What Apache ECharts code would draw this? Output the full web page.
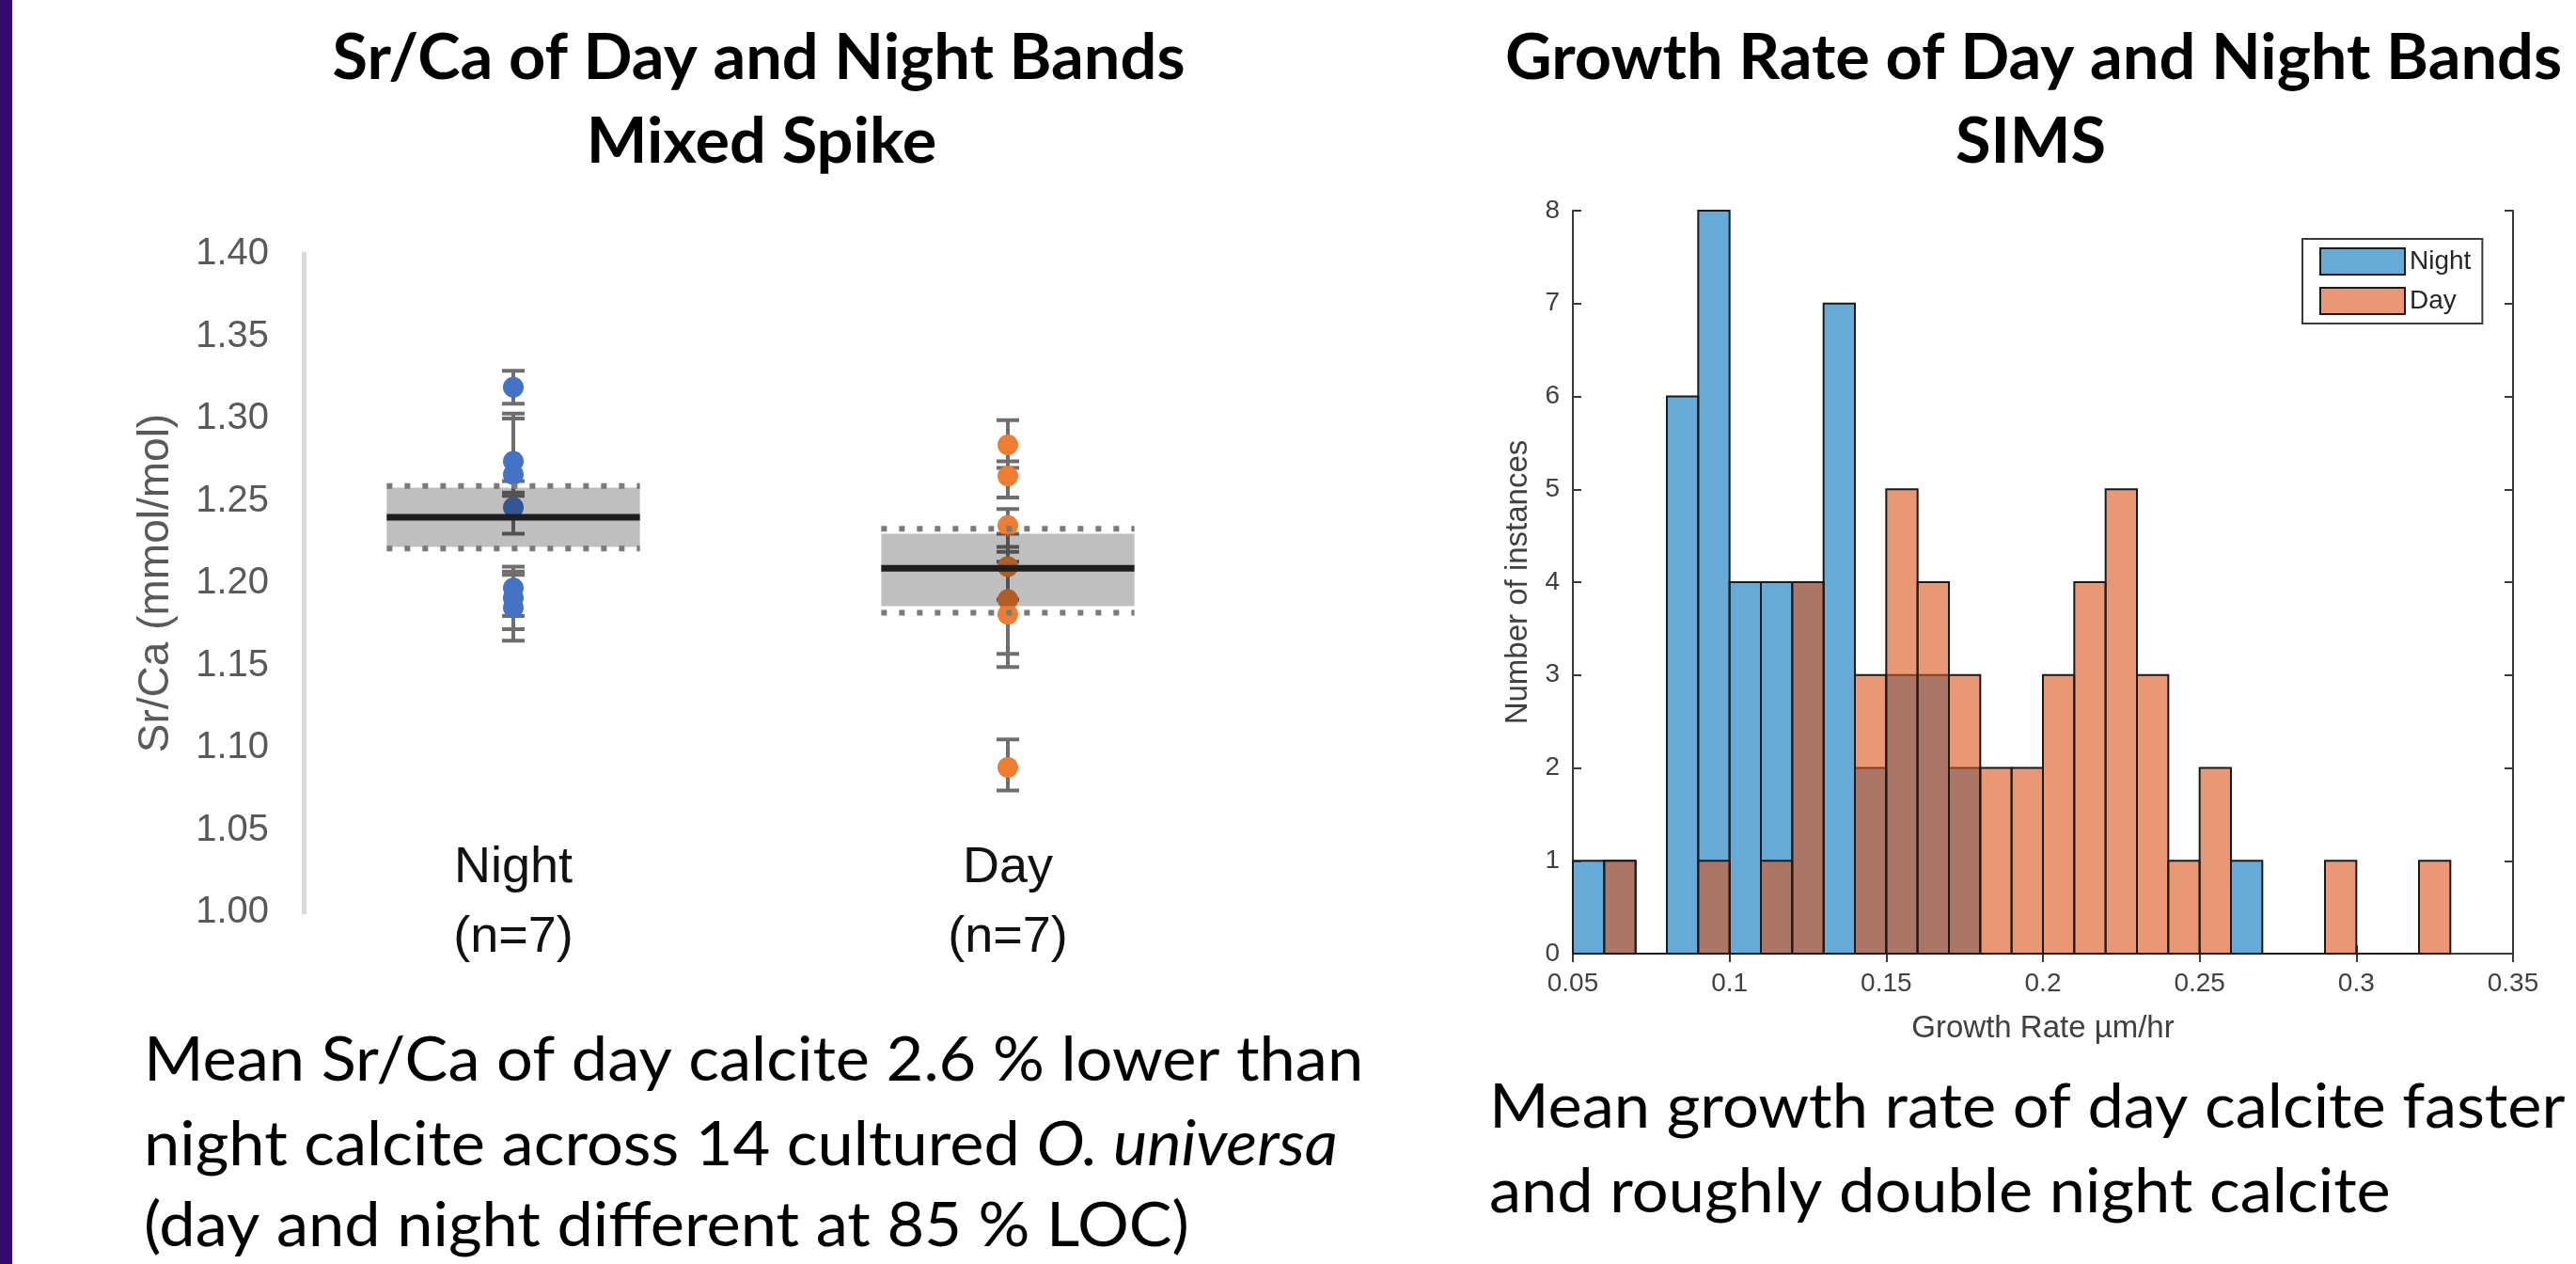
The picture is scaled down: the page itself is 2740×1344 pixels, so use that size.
<!DOCTYPE html>
<html>
<head>
<meta charset="utf-8">
<script src="https://cdn.jsdelivr.net/npm/echarts/dist/echarts.min.js"></script>
<style>
html,body{margin:0;padding:0;background:#fff;}
#c{width:2740px;height:1344px;}
</style>
</head>
<body>
<div id="c"></div>
<script>
// ---------------- Left panel: Sr/Ca of day and night bands ----------------
const groups = ['Night', 'Day'];
const groupN = [7, 7];
const nightValues = [1.319, 1.274, 1.266, 1.246, 1.197, 1.191, 1.185];
const nightLow    = [1.309, 1.255, 1.253, 1.230, 1.180, 1.172, 1.165];
const nightHigh   = [1.329, 1.303, 1.300, 1.262, 1.210, 1.207, 1.205];
const dayValues   = [1.284, 1.265, 1.235, 1.210, 1.190, 1.181, 1.088];
const dayLow      = [1.270, 1.252, 1.219, 1.190, 1.157, 1.149, 1.074];
const dayHigh     = [1.299, 1.274, 1.245, 1.230, 1.222, 1.213, 1.105];
const groupMean   = [1.240, 1.209];
const boxLow      = [1.222, 1.186];
const boxHigh     = [1.258, 1.230];
const limLow      = [1.221, 1.182];
const limHigh     = [1.259, 1.233];
const srMin = 1.00, srMax = 1.40, srStep = 0.05;

// ---------------- Right panel: growth rate histogram ----------------
const binLo = [0.05,0.06,0.07,0.08,0.09,0.10,0.11,0.12,0.13,0.14,0.15,0.16,0.17,0.18,0.19,0.20,0.21,0.22,0.23,0.24,0.25,0.26,0.27,0.28,0.29,0.30,0.31,0.32];
const binHi = [0.06,0.07,0.08,0.09,0.10,0.11,0.12,0.13,0.14,0.15,0.16,0.17,0.18,0.19,0.20,0.21,0.22,0.23,0.24,0.25,0.26,0.27,0.28,0.29,0.30,0.31,0.32,0.33];
const nightCounts = [1,1,0,6,8,4,4,4,7,2,3,3,2,0,0,0,0,0,0,0,0,1,0,0,0,0,0,0];
const dayCounts   = [0,1,0,0,1,0,1,4,0,3,5,4,3,2,2,3,4,5,3,1,2,0,0,0,1,0,0,1];
const rateMin = 0.05, rateMax = 0.35, rateStep = 0.05;
const countMin = 0, countMax = 8, countStep = 1;

// ---------------- Texts ----------------
const leftTitle  = ['Sr/Ca of Day and Night Bands', 'Mixed Spike'];
const rightTitle = ['Growth Rate of Day and Night Bands', 'SIMS'];
const leftNote   = ['Mean Sr/Ca of day calcite 2.6 % lower than',
                    'night calcite across 14 cultured ', 'O. universa',
                    '(day and night different at 85 % LOC)'];
const rightNote  = ['Mean growth rate of day calcite faster', 'and roughly double night calcite'];

// ---------------- helpers ----------------
const mctx = document.createElement('canvas').getContext('2d');
function measure(text, font) { mctx.font = font; return mctx.measureText(text).width; }
const TITLE_SIZE = 67, NOTE_SIZE = 65;
const titleScale = 907 / measure(leftTitle[0], 'bold ' + TITLE_SIZE + 'px Lato');
const noteScale = (1292 / measure(leftNote[0], NOTE_SIZE + 'px Lato') +
                   1149 / measure(rightNote[0], NOTE_SIZE + 'px Lato')) / 2;

function textEl(str, x, y, size, weight, align, scale, rich) {
  const st = {text: str, x: 0, y: 0, fontFamily: 'Lato', fontSize: size, fontWeight: weight,
              fill: '#000', align: align, textAlign: align, verticalAlign: 'middle', textVerticalAlign: 'middle'};
  if (rich) st.rich = rich;
  return {type: 'text', x: x, y: y, scaleX: scale, scaleY: 1, originX: 0, originY: 0, silent: true, style: st};
}

function histData(counts) {
  let first = counts.findIndex(c => c > 0);
  let last = counts.length - 1 - counts.slice().reverse().findIndex(c => c > 0);
  const out = [];
  for (let i = first; i <= last; i++) out.push([binLo[i], binHi[i], counts[i]]);
  return out;
}

function histRender(color) {
  return function (params, api) {
    const lo = api.value(0), hi = api.value(1), c = api.value(2);
    const pTop = api.coord([lo, c]);
    const pBot = api.coord([hi, 0]);
    if (c === 0) {
      return {type: 'line', shape: {x1: pTop[0], y1: pBot[1], x2: pBot[0], y2: pBot[1]},
              style: {stroke: '#1a1a1a', lineWidth: 2}};
    }
    return {type: 'rect', shape: {x: pTop[0], y: pTop[1], width: pBot[0] - pTop[0], height: pBot[1] - pTop[1]},
            style: {fill: color, stroke: '#1a1a1a', lineWidth: 2}};
  };
}

function errRender(params, api) {
  const c = api.value(0);
  const pLo = api.coord([c, api.value(1)]);
  const pHi = api.coord([c, api.value(2)]);
  const hw = 12;
  const st = {stroke: '#6e6e6e', lineWidth: 4};
  return {type: 'group', children: [
    {type: 'line', shape: {x1: pLo[0], y1: pLo[1], x2: pHi[0], y2: pHi[1]}, style: st},
    {type: 'line', shape: {x1: pLo[0] - hw, y1: pLo[1], x2: pLo[0] + hw, y2: pLo[1]}, style: st},
    {type: 'line', shape: {x1: pHi[0] - hw, y1: pHi[1], x2: pHi[0] + hw, y2: pHi[1]}, style: st}
  ]};
}

function boxRender(params, api) {
  const c = api.value(0);
  const bw = api.size([1, 0])[0] * 0.512;
  const xc = api.coord([c, srMin])[0];
  const x0 = xc - bw / 2;
  const yLo = api.coord([c, api.value(1)])[1];
  const yHi = api.coord([c, api.value(2)])[1];
  const yM = api.coord([c, api.value(3)])[1];
  const yL1 = api.coord([c, api.value(4)])[1];
  const yL2 = api.coord([c, api.value(5)])[1];
  const dot = {stroke: '#7a7a7a', lineWidth: 6, lineDash: [6, 13]};
  return {type: 'group', children: [
    {type: 'rect', shape: {x: x0, y: yHi, width: bw, height: yLo - yHi}, style: {fill: 'rgba(0,0,0,0.25)'}},
    {type: 'line', shape: {x1: x0, y1: yL1, x2: x0 + bw, y2: yL1}, style: dot},
    {type: 'line', shape: {x1: x0, y1: yL2, x2: x0 + bw, y2: yL2}, style: dot},
    {type: 'line', shape: {x1: x0, y1: yM, x2: x0 + bw, y2: yM}, style: {stroke: '#1e1e1e', lineWidth: 7}}
  ]};
}

const errData = nightLow.map((lo, i) => [0, lo, nightHigh[i]])
  .concat(dayLow.map((lo, i) => [1, lo, dayHigh[i]]));
const boxData = groups.map((g, i) => [i, boxLow[i], boxHigh[i], groupMean[i], limLow[i], limHigh[i]]);

const axisFont = 'Liberation Sans';
const mAxisColor = '#3a3a3a';
const mLabelColor = '#404040';

const chart = echarts.init(document.getElementById('c'), null, {renderer: 'canvas', width: 2740, height: 1344});

const option = {
  animation: false,
  backgroundColor: '#ffffff',
  grid: [
    {left: 283, top: 270, width: 1052, height: 700, containLabel: false, outerBoundsMode: 'none'},
    {left: 1673, top: 224, width: 1000, height: 790, containLabel: false, outerBoundsMode: 'none'}
  ],
  legend: {
    data: ['Night', 'Day'], selectedMode: false, orient: 'vertical',
    left: 2449, top: 254, itemWidth: 90, itemHeight: 28, itemGap: 12,
    padding: [9, 12, 9, 18], borderColor: '#3a3a3a', borderWidth: 2, backgroundColor: '#fff',
    icon: 'rect',
    itemStyle: {borderColor: '#1a1a1a', borderWidth: 2},
    textStyle: {fontSize: 28, color: '#262626', fontFamily: axisFont, padding: [0, 0, 0, 0]}
  },
  xAxis: [
    {type: 'category', gridIndex: 0, data: groups, offset: -84,
     axisLine: {show: false}, axisTick: {show: false}, splitLine: {show: false},
     axisLabel: {formatter: (v, i) => v + '\n(n=' + groupN[i] + ')', fontSize: 54, lineHeight: 74,
                 color: '#111', fontFamily: axisFont, margin: 0}},
    {type: 'value', gridIndex: 1, min: rateMin, max: rateMax, interval: rateStep, position: 'bottom',
     axisLine: {show: true, lineStyle: {color: mAxisColor, width: 2}},
     axisTick: {show: true, inside: true, length: 9, lineStyle: {color: mAxisColor, width: 2}},
     splitLine: {show: false},
     axisLabel: {fontSize: 28, color: mLabelColor, fontFamily: axisFont, margin: 18},
     name: 'Growth Rate µm/hr', nameLocation: 'middle', nameGap: 63,
     nameTextStyle: {fontSize: 33, color: mLabelColor, fontFamily: axisFont}},
    {type: 'value', gridIndex: 1, min: rateMin, max: rateMax, interval: rateStep, position: 'top',
     axisLine: {show: true, lineStyle: {color: mAxisColor, width: 2}},
     axisTick: {show: true, inside: true, length: 9, lineStyle: {color: mAxisColor, width: 2}},
     splitLine: {show: false}, axisLabel: {show: false}}
  ],
  yAxis: [
    {type: 'value', gridIndex: 0, min: srMin, max: srMax, interval: srStep, offset: -40,
     axisLine: {show: true, lineStyle: {color: '#d9d9d9', width: 5}},
     axisTick: {show: false}, splitLine: {show: false},
     axisLabel: {formatter: v => v.toFixed(2), fontSize: 40, color: '#595959', fontFamily: axisFont, margin: 37},
     name: 'Sr/Ca (mmol/mol)', nameLocation: 'middle', nameGap: 134,
     nameTextStyle: {fontSize: 46, color: '#595959', fontFamily: axisFont}},
    {type: 'value', gridIndex: 1, min: countMin, max: countMax, interval: countStep, position: 'left',
     axisLine: {show: true, lineStyle: {color: mAxisColor, width: 2}},
     axisTick: {show: true, inside: true, length: 9, lineStyle: {color: mAxisColor, width: 2}},
     splitLine: {show: false},
     axisLabel: {fontSize: 28, color: mLabelColor, fontFamily: axisFont, margin: 14},
     name: 'Number of instances', nameLocation: 'middle', nameGap: 42,
     nameTextStyle: {fontSize: 33, color: mLabelColor, fontFamily: axisFont}},
    {type: 'value', gridIndex: 1, min: countMin, max: countMax, interval: countStep, position: 'right',
     axisLine: {show: true, lineStyle: {color: mAxisColor, width: 2}},
     axisTick: {show: true, inside: true, length: 9, lineStyle: {color: mAxisColor, width: 2}},
     splitLine: {show: false}, axisLabel: {show: false}}
  ],
  series: [
    {type: 'custom', name: 'err', xAxisIndex: 0, yAxisIndex: 0, z: 2, clip: false,
     renderItem: errRender, data: errData, encode: {x: 0, y: [1, 2]}},
    {type: 'scatter', name: 'NightPts', xAxisIndex: 0, yAxisIndex: 0, z: 3, symbolSize: 22,
     itemStyle: {color: '#4472C4', opacity: 1}, data: nightValues.map(v => [0, v])},
    {type: 'scatter', name: 'DayPts', xAxisIndex: 0, yAxisIndex: 0, z: 3, symbolSize: 22,
     itemStyle: {color: '#ED7D31', opacity: 1}, data: dayValues.map(v => [1, v])},
    {type: 'custom', name: 'box', xAxisIndex: 0, yAxisIndex: 0, z: 4, clip: false,
     renderItem: boxRender, data: boxData, encode: {x: 0, y: [1, 2]}},
    {type: 'custom', name: 'Night', xAxisIndex: 1, yAxisIndex: 1, z: 2, clip: false,
     itemStyle: {color: 'rgba(0,114,189,0.6)', borderColor: '#1a1a1a', borderWidth: 2},
     renderItem: histRender('rgba(0,114,189,0.6)'), data: histData(nightCounts), encode: {x: [0, 1], y: 2}},
    {type: 'custom', name: 'Day', xAxisIndex: 1, yAxisIndex: 1, z: 3, clip: false,
     itemStyle: {color: 'rgba(217,83,25,0.6)', borderColor: '#1a1a1a', borderWidth: 2},
     renderItem: histRender('rgba(217,83,25,0.6)'), data: histData(dayCounts), encode: {x: [0, 1], y: 2}}
  ],
  graphic: [
    {type: 'rect', silent: true, shape: {x: 0, y: 0, width: 13, height: 1344}, style: {fill: '#320a6e'}},
    textEl(leftTitle[0], 807, 62, TITLE_SIZE, 'bold', 'center', titleScale),
    textEl(leftTitle[1], 810, 151, TITLE_SIZE, 'bold', 'center', titleScale),
    textEl(rightTitle[0], 2163, 62, TITLE_SIZE, 'bold', 'center', titleScale),
    textEl(rightTitle[1], 2160, 151, TITLE_SIZE, 'bold', 'center', titleScale),
    textEl(leftNote[0], 153, 1128, NOTE_SIZE, 'normal', 'left', noteScale),
    textEl(leftNote[1] + '{i|' + leftNote[2] + '}', 153, 1218, NOTE_SIZE, 'normal', 'left', noteScale,
           {i: {fontStyle: 'italic', fontFamily: 'Lato', fontSize: NOTE_SIZE, fill: '#000'}}),
    textEl(leftNote[3], 153, 1304, NOTE_SIZE, 'normal', 'left', noteScale),
    textEl(rightNote[0], 1584, 1178, NOTE_SIZE, 'normal', 'left', noteScale),
    textEl(rightNote[1], 1584, 1268, NOTE_SIZE, 'normal', 'left', noteScale)
  ]
};
chart.setOption(option);
</script>
</body>
</html>
